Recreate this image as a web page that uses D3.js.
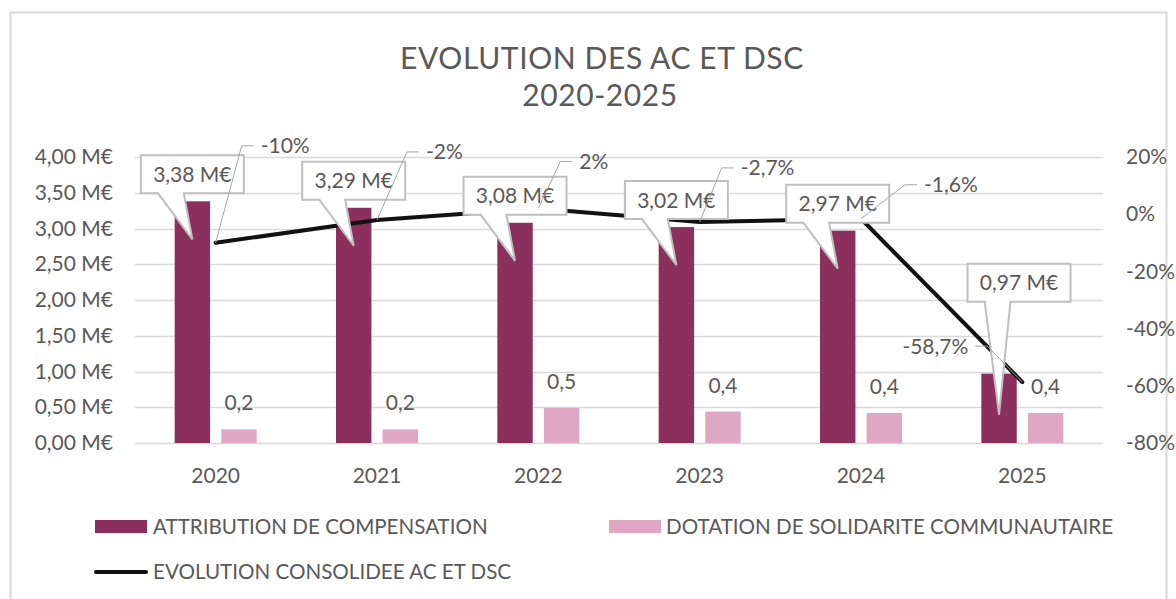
<!DOCTYPE html>
<html>
<head>
<meta charset="utf-8">
<script src="https://cdn.jsdelivr.net/npm/d3@7"></script>
<style>
  html, body { margin: 0; padding: 0; background: #ffffff; }
  svg { display: block; font-family: Lato, "Open Sans", sans-serif; }
</style>
</head>
<body>
<svg id="chart" width="1176" height="599"></svg>
<script>
// ---- DATA ----
const years = ["2020", "2021", "2022", "2023", "2024", "2025"];
const acValues = [3.38, 3.29, 3.08, 3.02, 2.97, 0.97];       // M€
const dscValues = [0.19, 0.19, 0.49, 0.44, 0.42, 0.42];      // M€
const evolutionValues = [-10, -2, 2, -2.7, -1.6, -58.7];     // %
const leftTicks = [0, 0.5, 1, 1.5, 2, 2.5, 3, 3.5, 4];
const rightTicks = [-80, -60, -40, -20, 0, 20];
const seriesNames = ["ATTRIBUTION DE COMPENSATION", "DOTATION DE SOLIDARITE COMMUNAUTAIRE", "EVOLUTION CONSOLIDEE AC ET DSC"];
const titleLines = ["EVOLUTION DES AC ET DSC", "2020-2025"];

// ---- LAYOUT / STYLE ----
const colors = { ac: "#8b2f5c", dsc: "#e0a7c5", line: "#111111", text: "#595959", grid: "#d9d9d9", callout: "#bfbfbf", leader: "#a6a6a6" };
const plot = { left: 135, right: 1103, top: 157, bottom: 443 };
const fontSize = 21;
const legendFont = 20.6;
// callout box centre offset from (bar centre, bar top)
const calloutOffsets = [[0, -27], [0, -27], [0, -27], [0, -27], [0, -27], [20, -91]];
// percent-label leader bend offset from line point
const leaderOffsets = [[26, -97], [30, -68], [22, -47], [22, -54], [44, -34], [-35, -36]];

const svg = d3.select("#chart");

// chart frame
svg.append("rect").attr("x", 10.5).attr("y", 12.5).attr("width", 1156).attr("height", 600)
  .attr("fill", "#fff").attr("stroke", "#d9d9d9").attr("stroke-width", 2);

// scales
const x = d3.scaleBand().domain(years).range([plot.left, plot.right]);
const xSub = d3.scaleBand().domain(["ac", "dsc"]).range([-41, 41]).paddingInner(0.24);
const yL = d3.scaleLinear().domain([0, 4]).range([plot.bottom, plot.top]);
const yR = d3.scaleLinear().domain([-80, 20]).range([plot.bottom, plot.top]);
const cx = d => x(d) + x.bandwidth() / 2;

const fmtM = v => d3.format(".2f")(v).replace(".", ",") + " M€";
const fmtD = v => d3.format(".1f")(v).replace(".", ",");
const fmtP = v => (Number.isInteger(v) ? String(v) : String(v).replace(".", ",")) + "%";

// title
svg.append("text").attr("x", 602).attr("y", 69).attr("text-anchor", "middle")
  .attr("font-size", 30).attr("letter-spacing", 0.6).attr("fill", colors.text).text(titleLines[0]);
svg.append("text").attr("x", 600).attr("y", 106).attr("text-anchor", "middle")
  .attr("font-size", 30).attr("letter-spacing", 0.6).attr("fill", colors.text).text(titleLines[1]);

// gridlines
svg.append("g").selectAll("line").data(leftTicks).join("line")
  .attr("x1", plot.left).attr("x2", plot.right)
  .attr("y1", d => Math.round(yL(d)) + 0.5).attr("y2", d => Math.round(yL(d)) + 0.5)
  .attr("stroke", colors.grid).attr("stroke-width", 1.3);

// axes
const axL = svg.append("g").attr("transform", `translate(${plot.left},0)`)
  .call(d3.axisLeft(yL).tickValues(leftTicks).tickFormat(fmtM).tickSize(0).tickPadding(22));
const axR = svg.append("g").attr("transform", `translate(${plot.right},0)`)
  .call(d3.axisRight(yR).tickValues(rightTicks).tickFormat(d => d + "%").tickSize(0).tickPadding(23));
const axB = svg.append("g").attr("transform", `translate(0,${plot.bottom})`)
  .call(d3.axisBottom(x).tickSize(0).tickPadding(25));
[axL, axR, axB].forEach(a => {
  a.select(".domain").remove();
  a.selectAll("text").attr("font-size", fontSize).attr("fill", colors.text).attr("font-family", "Lato, sans-serif");
});

// bars
svg.append("g").selectAll("rect").data(years).join("rect")
  .attr("x", (d) => cx(d) + xSub("ac")).attr("width", xSub.bandwidth())
  .attr("y", (d, i) => yL(acValues[i])).attr("height", (d, i) => yL(0) - yL(acValues[i]))
  .attr("fill", colors.ac);
svg.append("g").selectAll("rect").data(years).join("rect")
  .attr("x", (d) => cx(d) + xSub("dsc")).attr("width", xSub.bandwidth())
  .attr("y", (d, i) => yL(dscValues[i])).attr("height", (d, i) => yL(0) - yL(dscValues[i]))
  .attr("fill", colors.dsc);

// DSC labels
svg.append("g").selectAll("text").data(years).join("text")
  .attr("x", d => cx(d) + xSub("dsc") + xSub.bandwidth() / 2)
  .attr("y", (d, i) => yL(dscValues[i]) - 19)
  .attr("text-anchor", "middle").attr("font-size", fontSize).attr("fill", colors.text)
  .text((d, i) => fmtD(dscValues[i]));

// evolution line
const linePts = years.map((d, i) => [cx(d), yR(evolutionValues[i])]);
svg.append("path").datum(linePts)
  .attr("d", d3.line().curve(d3.curveLinear))
  .attr("fill", "none").attr("stroke", colors.line).attr("stroke-width", 4)
  .attr("stroke-linecap", "round").attr("stroke-linejoin", "round");

// callouts for AC values
const boxW = 103, boxH = 38;
function calloutPath(bx, by, w, h, tx, ty) {
  const l = bx - w / 2, t = by - h / 2, r = bx + w / 2, b = by + h / 2;
  const dx = tx - bx;
  const x1 = l + w * (dx > 0 ? 7 : 2) / 12, x2 = l + w * (dx > 0 ? 10 : 5) / 12;
  return `M${l},${t}H${r}V${b}H${x2}L${tx},${ty}L${x1},${b}H${l}Z`;
}
const cg = svg.append("g");
years.forEach((d, i) => {
  const barC = cx(d) + xSub("ac") + xSub.bandwidth() / 2;
  const top = yL(acValues[i]);
  const bx = barC + calloutOffsets[i][0], by = top + calloutOffsets[i][1];
  const tx = barC, ty = top + (i === 5 ? 41 : 38);
  cg.append("path").attr("d", calloutPath(bx, by, boxW, boxH, tx, ty))
    .attr("fill", "#fff").attr("stroke", colors.callout).attr("stroke-width", 2).attr("stroke-linejoin", "miter");
  cg.append("text").attr("x", bx).attr("y", by).attr("dy", "0.36em").attr("text-anchor", "middle")
    .attr("font-size", fontSize).attr("fill", colors.text).text(fmtM(acValues[i]));
});

// percent labels with leader lines
const lg = svg.append("g");
linePts.forEach((p, i) => {
  const [ox, oy] = leaderOffsets[i];
  const dir = ox >= 0 ? 1 : -1;
  const bx = p[0] + ox, by = p[1] + oy;
  lg.append("path").attr("d", `M${p[0]},${p[1]}L${bx},${by}H${bx + dir * 12}`)
    .attr("fill", "none").attr("stroke", colors.leader).attr("stroke-width", 1);
  lg.append("text").attr("x", bx + dir * 19).attr("y", by).attr("dy", "0.36em")
    .attr("text-anchor", dir > 0 ? "start" : "end")
    .attr("font-size", fontSize).attr("fill", colors.text).text(fmtP(evolutionValues[i]));
});

// legend
const leg = svg.append("g");
leg.append("rect").attr("x", 95).attr("y", 520).attr("width", 52).attr("height", 13).attr("fill", colors.ac);
leg.append("text").attr("x", 153).attr("y", 527).attr("dy", "0.36em").attr("font-size", legendFont).attr("fill", colors.text).text(seriesNames[0]);
leg.append("rect").attr("x", 609).attr("y", 520).attr("width", 52).attr("height", 13).attr("fill", colors.dsc);
leg.append("text").attr("x", 666).attr("y", 527).attr("dy", "0.36em").attr("font-size", legendFont).attr("fill", colors.text).text(seriesNames[1]);
leg.append("line").attr("x1", 96).attr("x2", 146).attr("y1", 572).attr("y2", 572)
  .attr("stroke", colors.line).attr("stroke-width", 4).attr("stroke-linecap", "round");
leg.append("text").attr("x", 153).attr("y", 572).attr("dy", "0.36em").attr("font-size", legendFont).attr("fill", colors.text).text(seriesNames[2]);
</script>
</body>
</html>
